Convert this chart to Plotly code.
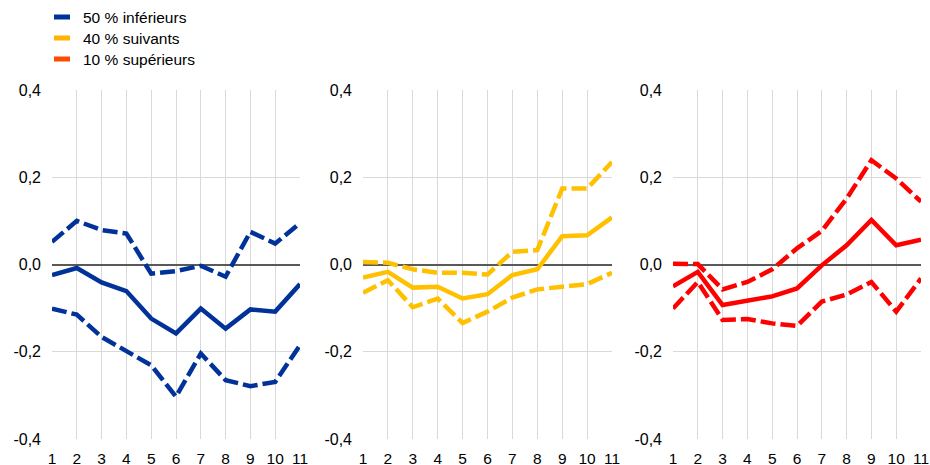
import plotly.graph_objects as go
from plotly.subplots import make_subplots

# ---------------- data ----------------
horizons = [1, 2, 3, 4, 5, 6, 7, 8, 9, 10, 11]

legend_labels = ["50 % inférieurs", "40 % suivants", "10 % supérieurs"]

# 50 % inférieurs
bottom50_mid = [-0.024, -0.008, -0.041, -0.061, -0.124, -0.158, -0.101, -0.147, -0.103, -0.108, -0.045]
bottom50_up = [0.052, 0.100, 0.079, 0.071, -0.021, -0.015, -0.003, -0.028, 0.075, 0.048, 0.095]
bottom50_lo = [-0.101, -0.115, -0.166, -0.200, -0.231, -0.303, -0.204, -0.265, -0.279, -0.269, -0.185]

# 40 % suivants
middle40_mid = [-0.030, -0.017, -0.053, -0.051, -0.078, -0.068, -0.024, -0.011, 0.065, 0.067, 0.108]
middle40_up = [0.006, 0.004, -0.011, -0.019, -0.019, -0.023, 0.029, 0.033, 0.174, 0.174, 0.235]
middle40_lo = [-0.065, -0.036, -0.098, -0.078, -0.134, -0.108, -0.076, -0.057, -0.051, -0.045, -0.019]

# 10 % supérieurs
top10_mid = [-0.050, -0.017, -0.093, -0.082, -0.073, -0.055, -0.002, 0.044, 0.102, 0.044, 0.057]
top10_up = [0.002, 0.001, -0.057, -0.040, -0.011, 0.037, 0.077, 0.151, 0.239, 0.197, 0.144]
top10_lo = [-0.101, -0.040, -0.127, -0.125, -0.135, -0.141, -0.085, -0.069, -0.040, -0.108, -0.032]

y_tick_vals = [-0.4, -0.2, 0.0, 0.2, 0.4]
y_tick_labels = ["-0,4", "-0,2", "0,0", "0,2", "0,4"]
x_tick_labels = [str(h) for h in horizons]

# ---------------- styling ----------------
line_colors = ["#003299", "#FFC000", "#FF0000"]
legend_colors = ["#003299", "#FFB400", "#FF4B00"]
FONT = "Liberation Sans, Arial, sans-serif"
W, H = 930, 465

fig = make_subplots(rows=1, cols=3)

groups = [
    (bottom50_mid, bottom50_up, bottom50_lo),
    (middle40_mid, middle40_up, middle40_lo),
    (top10_mid, top10_up, top10_lo),
]

for i, (mid, up, lo) in enumerate(groups):
    c = line_colors[i]
    for vals in (up, lo):
        fig.add_trace(go.Scatter(x=horizons, y=vals, mode="lines",
                                 line=dict(color=c, width=4.5, dash="15px,5px"),
                                 showlegend=False, hoverinfo="skip"),
                      row=1, col=i + 1)
    fig.add_trace(go.Scatter(x=horizons, y=mid, mode="lines",
                             line=dict(color=c, width=4.5),
                             showlegend=False),
                  row=1, col=i + 1)

x_domains = [(52, 300), (363, 612), (673, 921)]
y_top, y_bot = 90, 439
y_domain = [(H - y_bot) / H, (H - y_top) / H]

for i, (a, b) in enumerate(x_domains):
    xa = "xaxis" if i == 0 else f"xaxis{i + 1}"
    ya = "yaxis" if i == 0 else f"yaxis{i + 1}"
    fig.layout[xa].update(
        domain=[a / W, b / W], range=[1, 11], tickmode="array",
        tickvals=horizons, ticktext=x_tick_labels,
        showgrid=True, gridcolor="#d9d9d9", gridwidth=1,
        zeroline=False, showline=False, ticks="",
        ticklabeloverflow="allow", ticklabelstandoff=8,
        tickfont=dict(family=FONT, size=15.5, color="#000"),
        automargin=False, fixedrange=True,
    )
    fig.layout[ya].update(
        domain=y_domain, range=[-0.4, 0.4], tickmode="array",
        tickvals=y_tick_vals, ticktext=y_tick_labels,
        showgrid=True, gridcolor="#d9d9d9", gridwidth=1,
        zeroline=True, zerolinecolor="#595959", zerolinewidth=1.5,
        showline=False, ticks="", ticklabelstandoff=10,
        tickfont=dict(family=FONT, size=16, color="#000"),
        automargin=False, fixedrange=True,
    )

# legend drawn as swatches + text
shapes = []
annotations = []
legend_rows_px = [17, 38, 59]
for lbl, col, yc in zip(legend_labels, legend_colors, legend_rows_px):
    shapes.append(dict(type="rect", xref="paper", yref="paper",
                       x0=54 / W, x1=70 / W,
                       y0=1 - (yc + 2.5) / H, y1=1 - (yc - 2.5) / H,
                       fillcolor=col, line=dict(width=0)))
    annotations.append(dict(text=lbl, xref="paper", yref="paper",
                            x=81 / W, y=1 - yc / H, xanchor="left", yanchor="middle",
                            showarrow=False, font=dict(family=FONT, size=15.5, color="#000")))

fig.update_layout(
    width=W, height=H,
    margin=dict(l=0, r=0, t=0, b=0),
    paper_bgcolor="white", plot_bgcolor="white",
    showlegend=False,
    shapes=shapes, annotations=annotations,
    font=dict(family=FONT, size=15, color="#000"),
)

fig.write_html("out.html",
               config={"displayModeBar": False},
               post_script="document.body.style.margin='0';document.body.style.overflow='hidden';")
